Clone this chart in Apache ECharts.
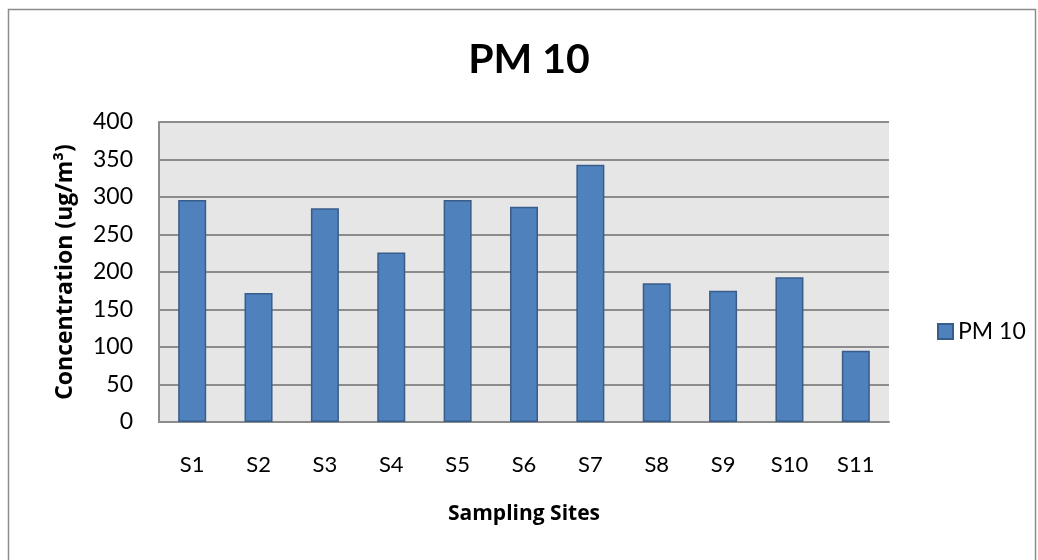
<!DOCTYPE html>
<html>
<head>
<meta charset="utf-8">
<script src="https://cdn.jsdelivr.net/npm/echarts@6/dist/echarts.min.js"></script>
<style>
  html, body { margin: 0; padding: 0; background: #fff; }
  #chart { width: 1038px; height: 560px; }
</style>
</head>
<body>
<div id="chart"></div>
<script>
// PM10 per sampling site
const sites = ['S1', 'S2', 'S3', 'S4', 'S5', 'S6', 'S7', 'S8', 'S9', 'S10', 'S11'];
const pm10 = [296, 172, 285, 226, 296, 287, 343, 185, 175, 193, 95];

const fontFam = 'Lato, "Open Sans", sans-serif';
const nameFam = '"Open Sans", Lato, sans-serif';

const chart = echarts.init(document.getElementById('chart'));

chart.setOption({
  animation: false,
  backgroundColor: '#fff',
  title: {
    text: 'PM 10',
    left: 524,
    top: 34,
    textAlign: 'center',
    textStyle: { fontFamily: fontFam, fontSize: 41, fontWeight: 'bold', color: '#000' }
  },
  legend: {
    left: 932,
    top: 315,
    icon: 'rect',
    itemWidth: 15,
    itemHeight: 15,
    itemGap: 7,
    textStyle: { fontFamily: fontFam, fontSize: 23, color: '#000' }
  },
  grid: {
    left: 159,
    right: 149,
    top: 122,
    bottom: 138,
    show: true,
    backgroundColor: '#e6e6e6',
    borderWidth: 0
  },
  xAxis: {
    type: 'category',
    data: sites,
    name: 'Sampling Sites',
    nameLocation: 'middle',
    nameGap: 82,
    nameTextStyle: { fontFamily: nameFam, fontSize: 21, fontWeight: 'bold', color: '#000' },
    axisLine: { lineStyle: { color: '#8c8c8c', width: 2 } },
    axisTick: { show: false },
    axisLabel: { fontFamily: fontFam, fontSize: 22, color: '#000', margin: 32 }
  },
  yAxis: {
    type: 'value',
    min: 0,
    max: 400,
    interval: 50,
    name: 'Concentration (ug/m³)',
    nameLocation: 'middle',
    nameGap: 82,
    nameTextStyle: { fontFamily: nameFam, fontSize: 23, fontWeight: 'bold', color: '#000' },
    axisLine: { show: true, lineStyle: { color: '#8c8c8c', width: 2 } },
    axisTick: { show: false },
    axisLabel: { fontFamily: fontFam, fontSize: 23, color: '#000', margin: 26 },
    splitLine: { lineStyle: { color: '#8c8c8c', width: 2 } }
  },
  series: [{
    name: 'PM 10',
    type: 'bar',
    data: pm10,
    barWidth: 28,
    itemStyle: { color: '#4f81bd', borderColor: '#385d8a', borderWidth: 1.5 }
  }],
  graphic: [{
    type: 'rect',
    shape: { x: 8.5, y: 9.5, width: 1027, height: 560 },
    style: { fill: null, stroke: '#8c8c8c', lineWidth: 1.5 },
    silent: true
  }]
});
</script>
</body>
</html>
